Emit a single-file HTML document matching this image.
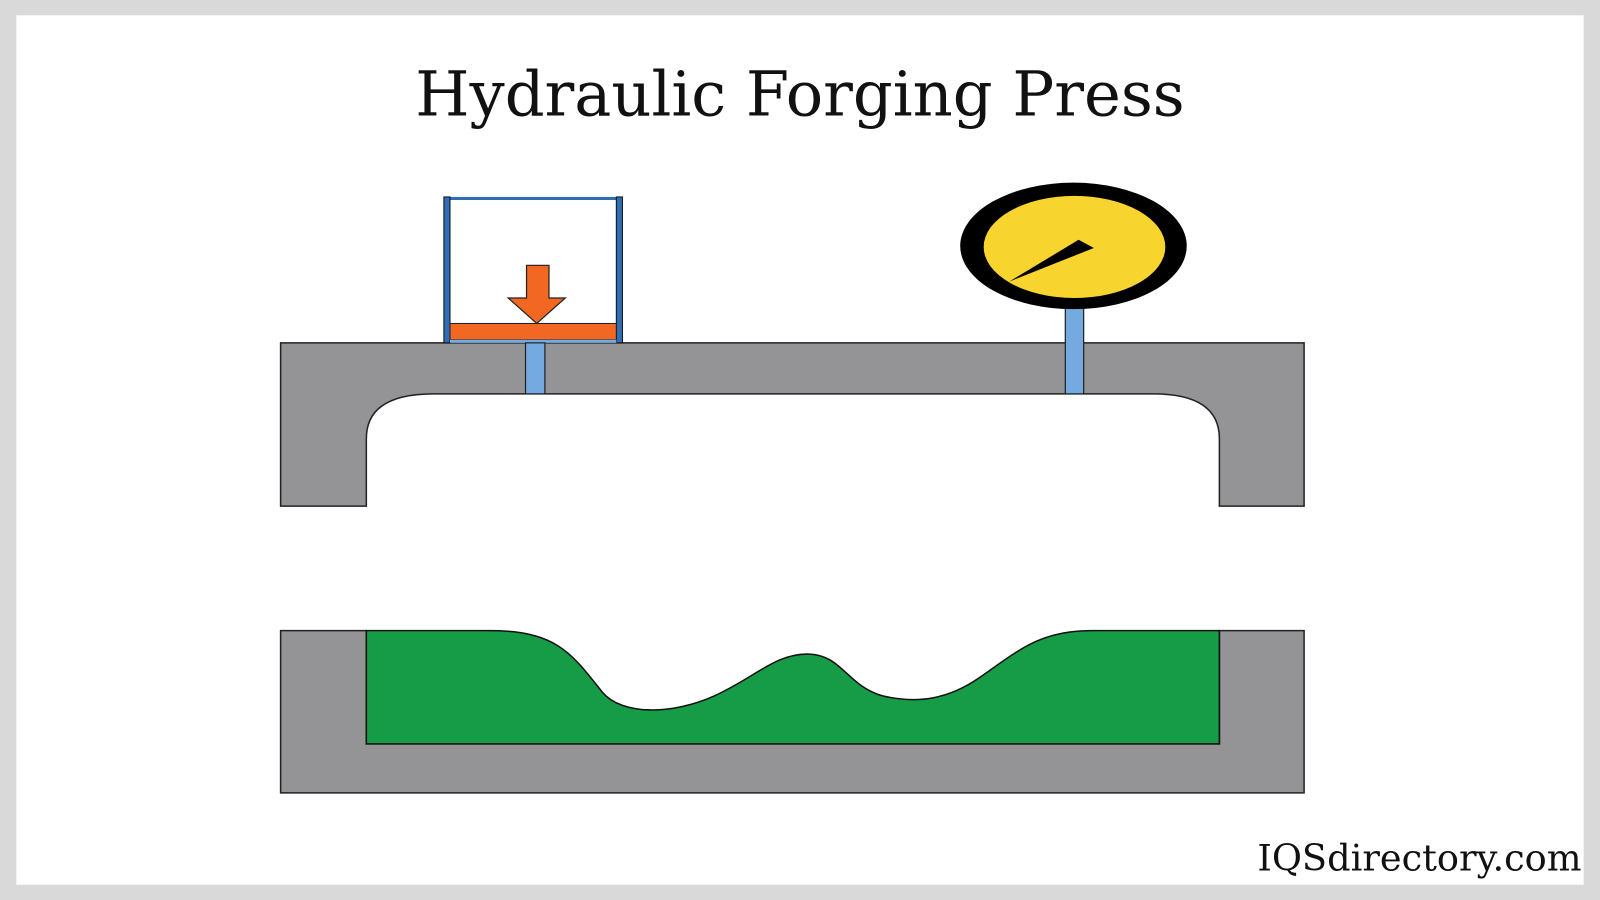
<!DOCTYPE html>
<html><head><meta charset="utf-8"><style>html,body{margin:0;padding:0;background:#d9d9d9}svg{display:block}</style></head>
<body>
<svg width="1600" height="900" viewBox="0 0 1568 882" preserveAspectRatio="none" xmlns="http://www.w3.org/2000/svg">
<rect x="0" y="0" width="1568" height="882" fill="#d9d9d9"/>
<rect x="16" y="15" width="1536" height="852" fill="#ffffff"/>
<text x="784" y="113" text-anchor="middle" font-family="'DejaVu Serif','Liberation Serif',serif" font-size="61" fill="#111">Hydraulic Forging Press</text>
<text x="1550" y="853" text-anchor="end" font-family="'DejaVu Serif','Liberation Serif',serif" font-size="36" fill="#111">IQSdirectory.com</text>
<!-- top frame -->
<path d="M275,336 H1278 V496 H1195 V430 Q1195,386 1130,386 H425 Q359,386 359,430 V496 H275 Z" fill="#949497" stroke="#222" stroke-width="1.5"/>
<!-- piston cylinder -->
<rect x="435" y="193" width="175" height="3" fill="#2f6db5"/>
<rect x="435" y="193" width="6" height="143" fill="#2f6db5" stroke="#111" stroke-width="1"/>
<rect x="604" y="193" width="6" height="143" fill="#2f6db5" stroke="#111" stroke-width="1"/>
<rect x="441" y="317" width="163" height="16" fill="#f26722" stroke="#222" stroke-width="1"/>
<rect x="441" y="333" width="163" height="3" fill="#74aadf"/>
<polygon points="516,260 538,260 538,292 554,292 526,317 498,292 516,292" fill="#f26722" stroke="#222" stroke-width="1.2"/>
<rect x="515" y="336" width="19" height="50" fill="#74aadf" stroke="#222" stroke-width="1.2"/>
<!-- gauge -->
<rect x="1044" y="298" width="18" height="88" fill="#74aadf" stroke="#222" stroke-width="1.2"/>
<ellipse cx="1052" cy="241" rx="111" ry="62" fill="#000"/>
<ellipse cx="1053" cy="242" rx="89" ry="50" fill="#f8d52e"/>
<polygon points="989,276 1057,235 1072,243" fill="#000"/>
<!-- bottom die -->
<path d="M275,618 H359 V729 H1195 V618 H1278 V777 H275 Z" fill="#949497" stroke="#222" stroke-width="1.5"/>
<path d="M359,618 H480 C545,618 560,640 590,678 C610,702 660,700 700,682 C740,664 760,640 793,641 C825,642 830,672 865,682 C900,690 930,685 960,664 C1000,636 1020,618 1070,618 H1195 V729 H359 Z" fill="#169c47" stroke="#111" stroke-width="1.5"/>
</svg>
</body></html>
